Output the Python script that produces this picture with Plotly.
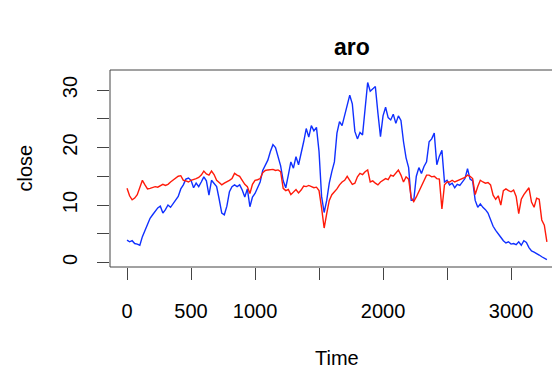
import numpy as np
import plotly.graph_objects as go

# Sampling interval of the stored series (time units per value)
step = 20

blue_close = [
    3.9, 3.6, 3.8, 3.3, 3.2, 3.0, 4.5, 5.5, 6.8, 7.7,
    8.3, 8.9, 9.5, 9.8, 8.6, 9.2, 10.0, 9.6, 10.3, 10.8,
    11.5, 12.8, 13.5, 14.5, 14.7, 14.3, 13.0, 13.8, 13.2, 14.0,
    14.9, 14.2, 11.7, 14.3, 13.8, 13.2, 11.0, 8.6, 8.3, 9.8,
    12.3, 13.2, 13.5, 13.2, 13.5, 12.6, 11.4, 12.8, 9.7, 11.4,
    12.0, 13.0, 14.0, 16.0, 17.0, 17.8, 19.3, 20.5, 20.0, 18.5,
    16.8, 14.2, 13.0, 15.2, 17.5, 16.4, 18.4, 17.0, 18.8, 21.0,
    23.3, 21.8, 23.8, 22.9, 23.5, 19.3, 11.5, 8.7, 10.8, 13.8,
    15.8, 17.5, 22.5, 24.5, 23.8, 25.6, 27.4, 29.1, 27.6, 22.8,
    21.5, 22.6, 22.2, 26.5, 31.3, 29.8, 30.2, 30.6, 26.0, 21.9,
    25.5, 27.0, 25.2, 24.8, 25.8, 24.2, 25.5, 24.7, 21.0, 18.2,
    16.5, 10.8, 10.8, 15.0, 16.5, 15.5, 16.7, 17.5, 21.0, 21.5,
    22.5, 17.0, 18.5, 19.5, 14.0, 14.3, 13.5, 13.8, 13.0, 13.6,
    13.4, 14.0, 14.6, 16.3, 14.5, 14.2, 10.8, 9.6, 10.2, 9.6,
    9.2, 8.6, 7.5, 6.3, 5.6, 4.9, 4.4, 3.8, 3.4, 3.6,
    3.2, 3.3, 3.1, 3.6, 3.0, 3.8, 3.5, 2.6, 2.0, 1.8,
    1.6, 1.3, 1.0, 0.7, 0.5,
]

red_close = [
    12.9, 11.6, 10.9, 11.2, 11.8, 13.2, 14.3, 13.5, 12.8, 12.9,
    13.0, 13.2, 13.1, 13.3, 13.6, 13.4, 13.6, 14.0, 14.3, 14.6,
    15.0, 15.1, 14.3, 14.2, 14.0, 14.3, 14.4, 14.6, 14.8, 15.2,
    15.9, 15.4, 15.2, 15.9, 15.3, 14.3, 13.9, 13.5, 13.8, 14.0,
    14.3, 14.6, 15.5, 15.2, 15.0, 14.3, 13.6, 13.2, 12.0, 13.6,
    14.3, 14.4, 14.6, 15.6, 16.0, 16.1, 16.2, 16.2, 16.0, 16.1,
    15.8, 12.9, 12.5, 12.7, 11.8, 12.2, 12.7, 12.1, 12.6, 13.3,
    13.2, 13.4, 13.2, 13.0, 13.1, 12.5, 9.5, 6.0, 8.5, 10.8,
    11.8, 12.3, 12.8, 13.5, 14.0, 14.3, 15.0, 14.3, 13.6, 13.8,
    14.9, 15.5, 15.3, 15.8, 16.1, 14.0, 14.2, 13.8, 13.5, 14.0,
    14.3, 14.6, 14.4, 15.2, 15.0, 15.5, 16.1, 15.2, 14.0, 14.9,
    14.5, 11.3, 10.6, 11.4, 12.4, 13.5, 14.4, 15.2, 15.2, 14.9,
    15.0, 14.6, 14.5, 9.3, 13.5, 14.0, 14.0, 14.3, 14.0, 14.2,
    14.3, 14.6, 14.8, 15.2, 15.0, 14.6, 11.8, 13.2, 14.3, 14.0,
    13.8, 13.9, 13.5, 11.7, 11.0, 11.6, 10.0, 12.5, 12.8, 12.5,
    12.3, 12.6, 11.5, 8.5, 11.0, 11.8, 12.4, 13.0, 10.5, 9.6,
    11.2, 11.0, 7.4, 6.5, 3.6,
]

x_tickvals = [0, 500, 1000, 1500, 2000, 2500, 3000]
x_ticktext = ["0", "500", "1000", "", "2000", "", "3000"]
y_tickvals = [0, 5, 10, 15, 20, 25, 30]
y_ticktext = ["0", "", "10", "", "20", "", "30"]

time_blue = np.arange(len(blue_close)) * step
time_red = np.arange(len(red_close)) * step

FONT = "Liberation Sans, Arial, sans-serif"
AXIS_COLOR = "#444444"

fig = go.Figure()
fig.add_trace(go.Scatter(x=time_blue, y=blue_close, mode="lines",
                         line=dict(color="#1030ff", width=1.4), showlegend=False))
fig.add_trace(go.Scatter(x=time_red, y=red_close, mode="lines",
                         line=dict(color="#ff1a0a", width=1.4), showlegend=False))

fig.update_layout(
    width=552, height=369,
    margin=dict(l=110, r=0, t=70, b=102),
    paper_bgcolor="white", plot_bgcolor="white",
    font=dict(family=FONT, size=20, color="#000000"),
    xaxis=dict(range=[-133, 3320], showgrid=False, zeroline=False, showline=False,
               tickmode="array", tickvals=x_tickvals, ticktext=x_ticktext,
               ticks="outside", ticklen=12, tickwidth=1, tickcolor=AXIS_COLOR,
               ticklabelstandoff=14),
    yaxis=dict(range=[-0.78, 33.48], showgrid=False, zeroline=False, showline=False,
               tickmode="array", tickvals=y_tickvals, ticktext=y_ticktext,
               ticks="outside", ticklen=12, tickwidth=1, tickcolor=AXIS_COLOR,
               tickangle=-90, ticklabelstandoff=12),
    shapes=[dict(type="rect", xref="paper", yref="paper", x0=0, x1=1.05, y0=0, y1=1,
                 line=dict(color=AXIS_COLOR, width=1), layer="above")],
    annotations=[
        dict(text="<b>aro</b>", xref="paper", yref="paper", x=(352 - 110) / 442, y=1,
             yshift=23, xanchor="center", yanchor="middle", showarrow=False,
             font=dict(size=23)),
        dict(text="Time", xref="paper", yref="paper", x=(337 - 110) / 442, y=0,
             yshift=-91, xanchor="center", yanchor="middle", showarrow=False),
        dict(text="close", xref="paper", yref="paper", x=0, y=0.5,
             xshift=-86, xanchor="center", yanchor="middle", showarrow=False,
             textangle=-90),
    ],
)

fig.write_html("out.html")
